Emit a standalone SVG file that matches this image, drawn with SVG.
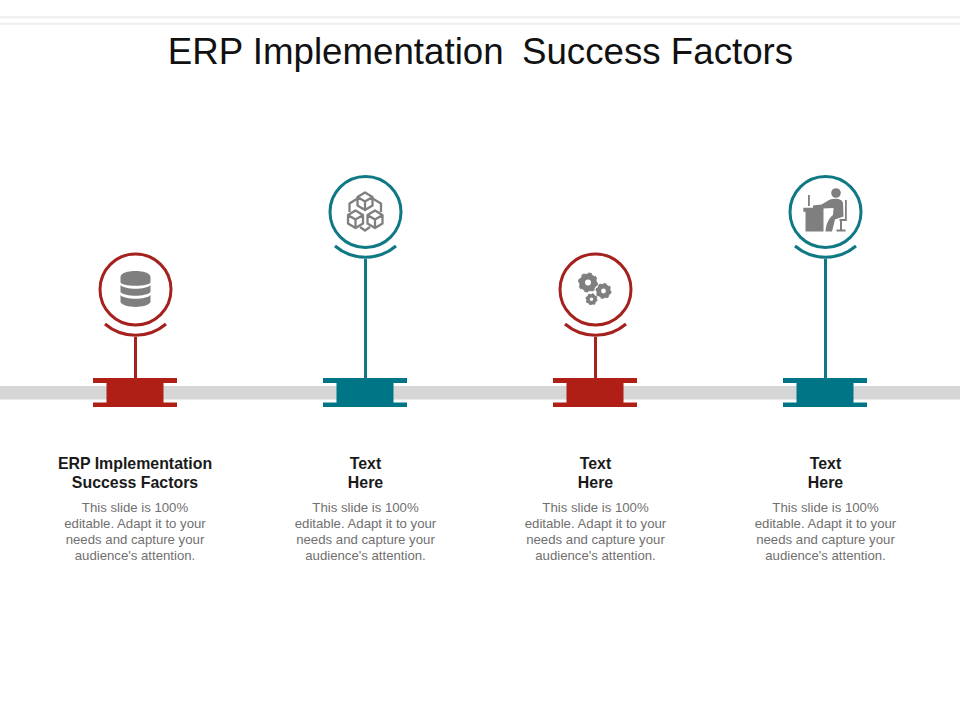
<svg xmlns="http://www.w3.org/2000/svg" width="960" height="720" viewBox="0 0 960 720">
<style>
.t{font-family:"Liberation Sans",Arial,sans-serif;text-anchor:middle}
.h{font-size:15.9px;font-weight:bold;fill:#1a1a1a}
.b{font-size:13.2px;fill:#707070}
.ring{fill:none;stroke-width:3}
.red{stroke:#a5211d}.teal{stroke:#0e7884}
.fr{fill:#b01f16}.ft{fill:#007586}
.ic{fill:#7f7f7f}
.ol{fill:none;stroke:#7f7f7f;stroke-width:2.300;stroke-linejoin:round}
.stem{stroke-width:3;fill:none}
</style>
<defs>
<path id="conn" d="M-42-14.500H42V-9.500H28.500V10H42V14.500H-42V10H-28.500V-9.500H-42Z"/>
<g id="gear"><circle r="6" fill="none" stroke="#7f7f7f" stroke-width="6"/><circle r="8.500" fill="none" stroke="#7f7f7f" stroke-width="3" stroke-dasharray="3.300 3.376"/></g>
</defs>
<rect x="0" y="16" width="960" height="2.500" fill="#f0f0f0"/>
<rect x="0" y="22.500" width="960" height="2.500" fill="#f0f0f0"/>
<text class="t" x="480.500" y="64" font-size="36.700" fill="#111">ERP Implementation <tspan dx="8.200">Success Factors</tspan></text>
<rect id="band" x="0" y="386" width="960" height="13.500" fill="#d6d6d6"/>
<g id="connectors">
<path class="stem red" d="M135.500 337V378"/>
<path class="stem teal" d="M365.500 259V378"/>
<path class="stem red" d="M595.500 337V378"/>
<path class="stem teal" d="M825.500 259V378"/>
</g>
<g id="node1">
<use href="#conn" x="135" y="392.500" class="fr"/>
<circle class="ring red" cx="135.500" cy="289.500" r="35.500"/>
<path class="ring red" d="M105 324A47 47 0 0 0 166 324"/>
<path class="ic" d="M120.500 277C120.500 269 150.500 269 150.500 277V282C150.500 287 120.500 287 120.500 282ZM120.500 285C125 290 146 290 150.500 285V292C146 297 125 297 120.500 292ZM120.500 295C125 300 146 300 150.500 295V302C147 308.500 124 308.500 120.500 302Z"/>
<text class="t h" x="135" y="468.500">ERP Implementation</text>
<text class="t h" x="135" y="487.500">Success Factors</text>
<text class="t b" x="135" y="512">This slide is 100%</text>
<text class="t b" x="135" y="528">editable. Adapt it to your</text>
<text class="t b" x="135" y="544">needs and capture your</text>
<text class="t b" x="135" y="560">audience's attention.</text>
</g>
<g id="node2">
<use href="#conn" x="365" y="392.500" class="ft"/>
<circle class="ring teal" cx="365.500" cy="212" r="35.500"/>
<path class="ring teal" d="M335 246A47 47 0 0 0 396 246"/>
<path class="ol" d="M365 192.500L372.500 197V205.500L365 210L357.500 205.500V197ZM357.500 197L365 201.500L372.500 197M365 201.500V210"/>
<path class="ol" d="M355.500 210.500L363 215V223.500L355.500 228L348 223.500V215ZM348 215L355.500 219.500L363 215M355.500 219.500V228"/>
<path class="ol" d="M375 210.500L382.500 215V223.500L375 228L367.500 223.500V215ZM367.500 215L375 219.500L382.500 215M375 219.500V228"/>
<path class="ol" d="M357.500 198.500L349.500 203.500V212M372.500 198.500L381 203.500V212M360 227L365 230.500L370 227"/>
<text class="t h" x="365.500" y="468.500">Text</text>
<text class="t h" x="365.500" y="487.500">Here</text>
<text class="t b" x="365.500" y="512">This slide is 100%</text>
<text class="t b" x="365.500" y="528">editable. Adapt it to your</text>
<text class="t b" x="365.500" y="544">needs and capture your</text>
<text class="t b" x="365.500" y="560">audience's attention.</text>
</g>
<g id="node3">
<use href="#conn" x="595" y="392.500" class="fr"/>
<circle class="ring red" cx="595.500" cy="289.500" r="35.500"/>
<path class="ring red" d="M565 324A47 47 0 0 0 626 324"/>
<use href="#gear" transform="translate(588 282.500)"/>
<use href="#gear" transform="translate(603.500 291) scale(.8)"/>
<use href="#gear" transform="translate(591.500 299.300) scale(.6)"/>
<text class="t h" x="595.500" y="468.500">Text</text>
<text class="t h" x="595.500" y="487.500">Here</text>
<text class="t b" x="595.500" y="512">This slide is 100%</text>
<text class="t b" x="595.500" y="528">editable. Adapt it to your</text>
<text class="t b" x="595.500" y="544">needs and capture your</text>
<text class="t b" x="595.500" y="560">audience's attention.</text>
</g>
<g id="node4">
<use href="#conn" x="825" y="392.500" class="ft"/>
<circle class="ring teal" cx="825.500" cy="212" r="35.500"/>
<path class="ring teal" d="M795 246A47 47 0 0 0 856 246"/>
<circle class="ic" cx="836" cy="193" r="4.800"/>
<path class="ic" d="M803.300 207.700H823.500V231.500H805.500V211.700H803.300ZM808 195H809.800V206H808Z"/>
<path class="ic" d="M813 205.500L821.500 204.500L830 199.500C835 198 842 198.500 843 203L843.500 216.500L835 219.500L832 231.500H825.500C826 225 828 219 833 215L833.500 208L822 208.500H813Z"/>
<path class="ic" d="M845 200H846.800V221H839.500V219H845ZM840 221H842V229.500H845.500V231.500H836.500V229.500H840Z"/>
<text class="t h" x="825.500" y="468.500">Text</text>
<text class="t h" x="825.500" y="487.500">Here</text>
<text class="t b" x="825.500" y="512">This slide is 100%</text>
<text class="t b" x="825.500" y="528">editable. Adapt it to your</text>
<text class="t b" x="825.500" y="544">needs and capture your</text>
<text class="t b" x="825.500" y="560">audience's attention.</text>
</g>
</svg>
